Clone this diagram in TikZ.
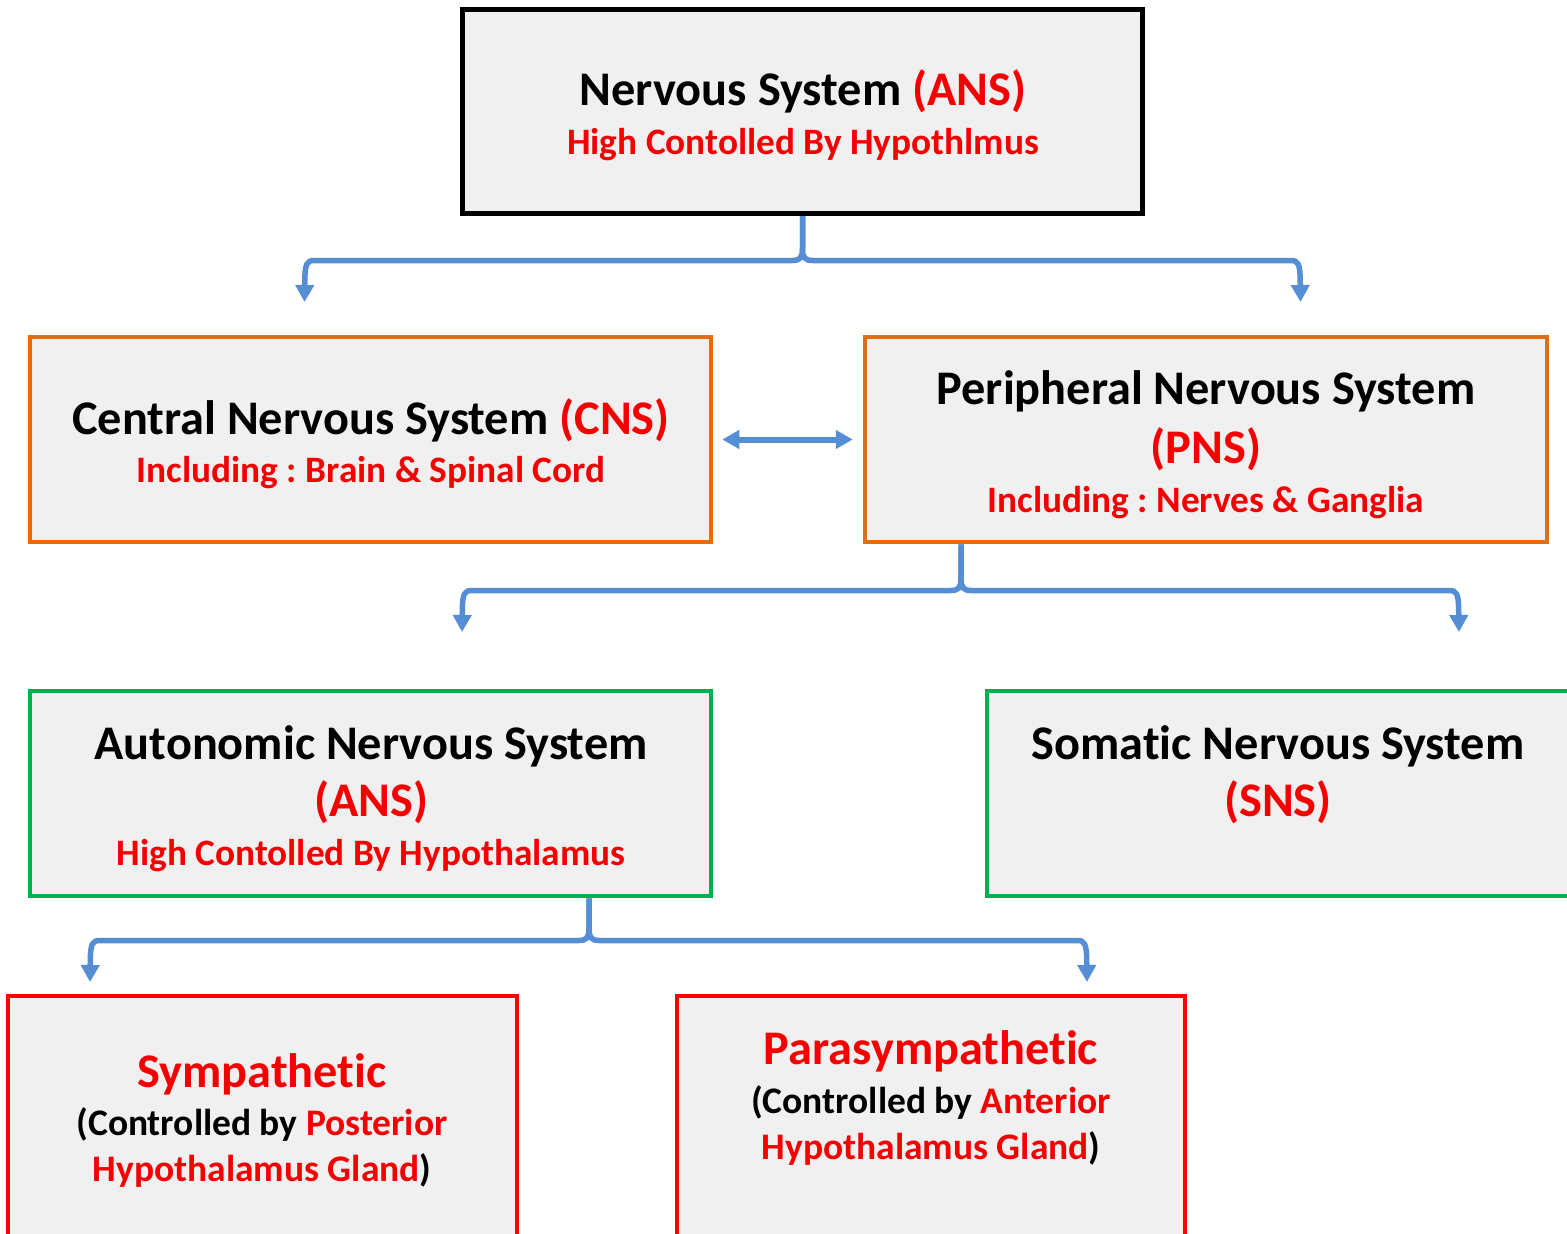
\documentclass[tikz,border=0pt]{standalone}
\usepackage{fontspec}
\setmainfont{Carlito}[Ligatures=NoCommon]
\usetikzlibrary{arrows.meta}
\frenchspacing
\definecolor{boxfill}{RGB}{240,240,240}
\definecolor{conblue}{RGB}{85,142,213}
\definecolor{txtred}{RGB}{245,0,0}
\definecolor{orangeb}{RGB}{228,108,10}
\definecolor{greenb}{RGB}{0,176,80}
\definecolor{redb}{RGB}{255,0,0}
\tikzset{
  box/.style={draw=#1, fill=boxfill, rectangle, inner sep=0pt},
  big/.style={font=\bfseries\fontsize{48.3}{52}\selectfont, anchor=base, inner sep=0pt},
  small/.style={font=\bfseries\fontsize{37.3}{40}\selectfont, anchor=base, inner sep=0pt},
  mid/.style={font=\bfseries\fontsize{37.5}{40}\selectfont, anchor=base, inner sep=0pt},
  brace/.style={draw=conblue, line width=5.5pt, -{Triangle[width=18pt,length=17pt]}},
}
\begin{document}
\begin{tikzpicture}[x=1pt,y=-1pt]
\useasboundingbox (0,0) rectangle (1567,1234);
\clip (0,0) rectangle (1567,1234);
\fill[white] (0,0) rectangle (1567,1234);
% boxes
\node[box=black, line width=5pt, minimum width=680pt, minimum height=204pt] (top) at (802.5,111.5) {};
\node[box=orangeb, line width=4.5pt, minimum width=681pt, minimum height=205pt] (cns) at (370.5,439.5) {};
\node[box=orangeb, line width=4.5pt, minimum width=682pt, minimum height=205pt] (pns) at (1206,439.5) {};
\node[box=greenb, line width=4.5pt, minimum width=681pt, minimum height=205pt] (ans) at (370.5,793.5) {};
\node[box=greenb, line width=4.5pt, minimum width=633pt, minimum height=205pt] (sns) at (1303.5,793.5) {};
\node[box=redb, line width=4.5pt, minimum width=509pt, minimum height=304pt] (sym) at (262.5,1148) {};
\node[box=redb, line width=4.5pt, minimum width=508pt, minimum height=304pt] (para) at (931,1148) {};
% texts
\node[big] (t1) at (803,105) {Nervous System \textcolor{txtred}{(ANS)}};
\node[small, text=txtred] (t2) at (803,154) {High Contolled By Hypothlmus};
\node[big] (c1) at (371,434) {Central Nervous System \textcolor{txtred}{(CNS)}};
\node[small, text=txtred] (c2) at (371,482) {Including : Brain \& Spinal Cord};
\node[big] (p1) at (1206,404) {Peripheral Nervous System};
\node[big, text=txtred] (p2) at (1206,463) {(PNS)};
\node[small, text=txtred] (p3) at (1206,512) {Including : Nerves \& Ganglia};
\node[big] (a1) at (371,759) {Autonomic Nervous System};
\node[big, text=txtred] (a2) at (371,816) {(ANS)};
\node[small, text=txtred] (a3) at (371,865) {High Contolled By Hypothalamus};
\node[big] (s1) at (1278,759) {Somatic Nervous System};
\node[big, text=txtred] (s2) at (1278,816) {(SNS)};
\node[big, text=txtred] (y1) at (262,1087) {Sympathetic};
\node[mid] (y2) at (262,1135) {(Controlled by \textcolor{txtred}{Posterior}};
\node[mid] (y3) at (262,1181) {\textcolor{txtred}{Hypothalamus Gland})};
\node[big, text=txtred] (r1) at (931,1064) {Parasympathetic};
\node[mid] (r2) at (931,1113) {(Controlled by \textcolor{txtred}{Anterior}};
\node[mid] (r3) at (931,1159) {\textcolor{txtred}{Hypothalamus Gland})};
% connectors
\coordinate (topL) at (304.5,302);
\coordinate (topR) at (1300.5,302);
\draw[brace] (top.south) -- (802.5,248) .. controls (802.5,258) and (800,260.5) .. (792,260.5) -- (314,260.5) .. controls (307,260.5) and (305,264) .. (304.8,280) -- (topL);
\draw[brace] (top.south) -- (802.5,248) .. controls (802.5,258) and (805,260.5) .. (813,260.5) -- (1291,260.5) .. controls (1298,260.5) and (1300,264) .. (1300.2,280) -- (topR);
\coordinate (pnsS) at ([xshift=-245pt]pns.south);
\coordinate (pnsL) at (462,632);
\coordinate (pnsR) at (1459,632);
\draw[brace] (pnsS) -- (961,578) .. controls (961,588) and (958.5,590.5) .. (950.5,590.5) -- (471.5,590.5) .. controls (464.5,590.5) and (462.5,594) .. (462.3,610) -- (pnsL);
\draw[brace] (pnsS) -- (961,578) .. controls (961,588) and (963.5,590.5) .. (971.5,590.5) -- (1449.5,590.5) .. controls (1456.5,590.5) and (1458.5,594) .. (1458.7,610) -- (pnsR);
\coordinate (ansS) at ([xshift=218.5pt]ans.south);
\coordinate (ansL) at (90,982);
\coordinate (ansR) at (1087,982);
\draw[brace] (ansS) -- (589,928) .. controls (589,938) and (586.5,940.5) .. (578.5,940.5) -- (99.5,940.5) .. controls (92.5,940.5) and (90.5,944) .. (90.3,960) -- (ansL);
\draw[brace] (ansS) -- (589,928) .. controls (589,938) and (591.5,940.5) .. (599.5,940.5) -- (1077.5,940.5) .. controls (1084.5,940.5) and (1086.5,944) .. (1086.7,960) -- (ansR);
\draw[draw=conblue, line width=6pt, {Triangle[width=18pt,length=17pt]}-{Triangle[width=18pt,length=17pt]}] ([xshift=9pt]cns.east) -- ([xshift=-10pt]pns.west);
\end{tikzpicture}
\end{document}
